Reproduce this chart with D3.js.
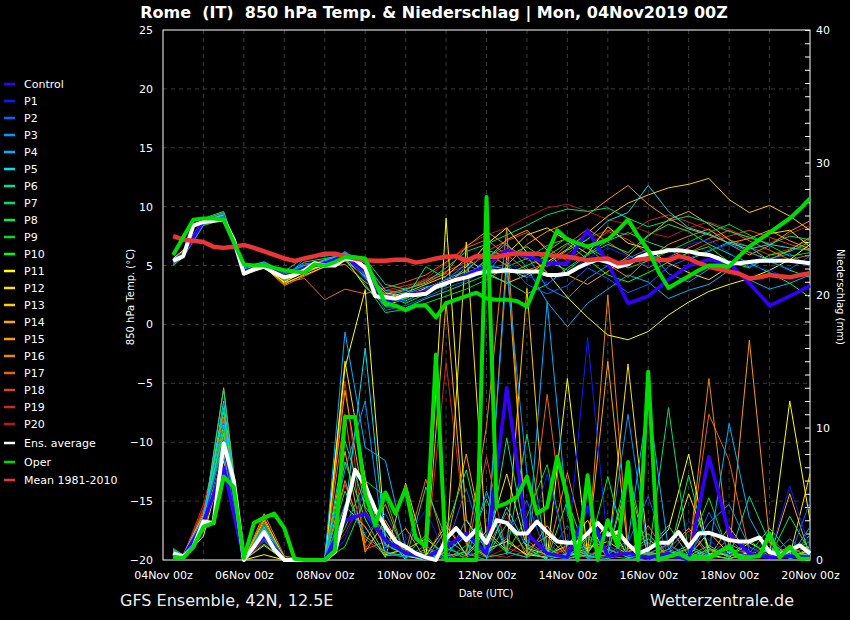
<!DOCTYPE html>
<html>
<head>
<meta charset="utf-8">
<title>Rome 850 hPa Temp. & Niederschlag</title>
<script src="https://d3js.org/d3.v7.min.js"></script>
<style>
  body { margin: 0; background: #000; }
  svg { display: block; font-family: "DejaVu Sans", sans-serif; }
</style>
</head>
<body>
<div id="chart"></div>
<script>
// forecast hours: 6-hourly for the main curves, 12-hourly for the members
var hours6 = d3.range(6, 385, 6);
var hours12 = [6].concat(d3.range(12, 385, 12));
var tickHours = d3.range(0, 385, 48);

// 850 hPa temperature (°C), 6 hourly from +6h
var tempMean = [7.5, 7.2, 7.1, 7.0, 6.6, 6.5, 6.6, 6.75,
  6.5, 6.2, 5.9, 5.6, 5.4, 5.6, 5.8, 6.0,
  6.0, 5.8, 5.6, 5.45, 5.4, 5.4, 5.5, 5.5,
  5.25, 5.4, 5.6, 5.75, 5.8, 5.4, 5.8, 5.75,
  5.75, 5.9, 6.05, 6.0, 6.0, 5.9, 5.8, 5.75,
  5.6, 5.45, 5.55, 5.6, 5.2, 5.3, 5.5, 5.6,
  5.5, 5.45, 5.8, 5.6, 5.2, 4.9, 4.7, 4.5,
  4.3, 3.9, 4.0, 4.2, 4.1, 4.0, 4.2, 4.35];
var tempAvg = [5.4, 5.8, 8.4, 8.7, 8.8, 8.9, 7.2, 4.3,
  4.7, 4.9, 4.4, 4.0, 4.2, 4.6, 5.2, 5.0,
  5.0, 5.6, 5.5, 4.8, 2.4, 2.3, 2.2, 2.5,
  2.5, 2.6, 3.2, 3.5, 3.8, 4.0, 4.3, 4.5,
  4.5, 4.6, 4.5, 4.5, 4.5, 4.2, 4.2, 4.3,
  4.8, 5.2, 5.5, 5.3, 4.9, 5.1, 5.7, 6.0,
  6.1, 6.3, 6.3, 6.2, 6.0, 5.9, 5.6, 5.2,
  5.2, 5.3, 5.4, 5.4, 5.4, 5.4, 5.3, 5.2];
var tempOper = [5.9, 7.4, 8.9, 9.0, 9.0, 8.9, 7.0, 5.1,
  5.0, 5.0, 4.8, 4.6, 4.5, 4.4, 5.1, 5.0,
  5.3, 5.7, 5.7, 5.6, 3.5, 1.8, 1.6, 1.2,
  1.6, 1.6, 0.6, 1.8, 2.1, 2.4, 2.7, 2.2,
  2.1, 2.1, 2.0, 1.5, 3.5, 6.0, 8.0, 7.2,
  6.9, 6.6, 6.9, 7.2, 8.0, 8.9, 7.5, 6.3,
  4.5, 3.1, 3.6, 4.1, 4.6, 5.0, 5.0, 4.9,
  5.8, 6.6, 7.2, 7.8, 8.4, 9.0, 9.8, 10.7];

// precipitation (mm), 6 hourly from +6h
var precAvg = [0.5, 0.25, 1.0, 2.9, 2.8, 8.8, 6.0, 0.0,
  1.0, 2.1, 0.8, 0.0, 0.0, 0.0, 0.0, 0.0,
  0.6, 3.5, 6.8, 5.6, 3.8, 2.5, 1.4, 1.0,
  0.5, 0.2, 0.0, 1.6, 2.4, 1.5, 2.3, 1.3,
  3.0, 2.8, 2.0, 2.0, 2.9, 2.1, 1.4, 1.3,
  1.3, 2.0, 2.8, 1.9, 2.1, 1.2, 0.5, 0.8,
  1.3, 1.3, 2.1, 1.0, 2.0, 2.05, 1.8, 1.5,
  1.4, 1.4, 1.7, 0.6, 0.4, 0.75, 1.1, 0.5];
var precOper = [0.25, 0.15, 1.0, 2.5, 2.8, 6.3, 5.5, 0.15,
  2.8, 3.2, 3.5, 2.4, 0.1, 0.0, 0.0, 0.0,
  0.7, 10.8, 10.8, 5.0, 2.6, 5.1, 3.5, 5.4,
  1.65, 1.0, 15.5, 0.0, 0.0, 0.0, 0.0, 27.4,
  4.0, 4.3, 4.75, 6.3, 3.5, 4.0, 7.8, 4.75,
  0.0, 6.4, 0.0, 3.0, 1.0, 7.4, 0.0, 14.2,
  0.0, 0.25, 0.5, 0.1, 0.2, 0.1, 0.6, 1.0,
  0.2, 0.2, 0.3, 2.0, 0.2, 1.0, 0.1, 0.1];

// ensemble members, temperature (°C) at hours12
var tempCtrl = [5.3,6.0,8.8,9.0,4.5,5.0,4.0,4.8,5.2,5.8,4.5,2.0,2.5,2.8,3.6,4.2,5.0,6.3,5.8,5.2,5.2,8.0,5.2,1.8,2.4,3.8,5.0,5.5,5.2,3.5,1.6,2.4,3.3];
var tempP1 = [5.2,5.9,8.6,9.1,4.6,5.1,4.2,4.9,5.3,5.9,3.8,1.8,2.1,3.0,3.9,4.8,6.0,5.4,4.1,3.5,4.4,5.6,6.5,5.8,4.9,5.7,6.8,7.2,6.1,5.0,4.6,3.9,4.4];
var tempP2 = [5.4,6.1,8.9,9.4,4.4,5.2,3.9,5.6,6.0,5.7,4.2,1.2,1.6,2.3,3.1,3.7,4.6,5.2,3.4,2.6,3.3,4.8,3.9,2.7,3.4,4.9,5.6,6.3,6.8,6.2,5.3,4.7,5.8];
var tempP3 = [5.5,6.2,8.7,9.2,4.3,4.9,3.8,5.2,5.1,6.2,4.9,2.4,2.9,2.5,3.8,5.1,4.3,6.4,5.9,3.1,2.2,3.9,5.0,5.6,6.4,4.3,3.6,4.7,5.4,4.9,5.6,6.0,4.9];
var tempP4 = [5.1,5.8,8.5,9.0,4.8,5.3,4.4,5.0,5.4,6.1,5.2,2.9,2.6,3.2,3.5,4.0,5.5,6.9,4.8,1.9,-0.2,1.8,3.0,4.2,3.6,2.2,2.9,3.4,4.6,3.8,3.0,3.5,4.2];
var tempP5 = [5.3,6.0,8.8,9.3,4.5,5.0,4.1,4.7,5.5,5.8,4.6,2.2,2.0,2.8,3.3,4.4,5.0,4.7,4.0,5.1,6.3,7.2,8.8,9.5,11.8,9.6,8.2,7.7,6.9,6.4,6.8,6.5,6.3];
var tempP6 = [5.2,5.8,8.6,9.1,4.7,5.2,4.0,5.0,5.2,5.6,4.0,1.5,1.4,2.2,2.8,3.5,4.2,3.6,2.6,3.4,4.8,6.0,7.1,7.8,7.0,6.4,5.5,6.2,7.0,6.6,5.4,4.6,4.0];
var tempP7 = [5.0,5.7,8.4,8.9,4.9,5.3,4.5,5.7,5.8,6.0,5.6,3.4,3.0,3.6,4.8,6.2,6.8,7.6,8.4,9.3,9.8,9.6,9.9,9.0,8.3,8.8,9.2,8.6,7.9,7.4,6.8,7.5,7.2];
var tempP8 = [5.4,6.2,9.0,9.6,4.6,5.0,4.2,5.3,5.6,5.9,4.8,2.0,2.2,4.9,3.9,4.5,6.3,5.8,6.6,5.4,4.6,5.9,6.8,6.1,7.6,8.5,7.9,6.8,6.0,5.2,4.4,3.5,2.3];
var tempP9 = [5.3,6.0,8.7,9.2,4.4,5.1,3.7,4.9,5.3,5.5,3.4,1.0,1.3,1.8,2.4,3.0,3.8,4.9,5.6,6.7,7.3,6.5,5.6,4.8,5.4,6.2,7.0,7.8,8.5,7.6,6.7,5.8,6.1];
var tempP10 = [5.2,5.9,8.8,9.0,4.5,5.2,4.1,4.8,5.4,5.7,4.3,2.5,1.8,2.6,3.4,4.1,4.9,4.3,5.0,5.8,6.9,5.5,4.2,3.6,4.4,5.3,6.1,6.6,5.3,4.8,5.9,6.2,7.0];
var tempP11 = [5.6,6.3,8.9,9.4,4.2,4.8,3.6,4.5,5.1,5.6,3.2,1.6,2.2,2.8,3.3,4.9,6.8,8.2,6.1,4.4,2.3,0.6,-0.9,-1.3,-0.6,0.8,1.9,2.8,3.4,3.9,4.6,5.5,6.8];
var tempP12 = [5.5,6.2,8.8,9.3,4.3,5.0,3.8,4.6,5.0,5.8,4.4,2.7,2.3,3.1,3.8,4.2,5.2,6.0,7.6,8.2,7.1,6.0,8.3,6.9,6.4,5.2,4.4,3.8,4.9,6.5,7.7,8.0,6.6];
var tempP13 = [5.4,6.0,8.6,9.0,4.4,5.1,3.5,4.2,4.9,6.0,5.0,2.3,2.7,3.4,4.1,5.6,4.4,3.5,4.2,5.3,6.4,7.8,9.2,10.3,11.0,11.6,11.9,12.4,10.6,9.5,10.1,9.2,8.0];
var tempP14 = [5.3,5.9,8.7,9.2,4.3,5.0,3.4,4.3,5.2,5.9,4.5,2.1,2.5,3.0,3.6,4.0,5.5,7.2,8.0,6.3,4.2,3.4,4.5,5.8,7.5,8.9,9.6,8.5,7.2,6.1,5.5,6.3,7.4];
var tempP15 = [5.2,5.8,8.5,9.1,4.6,5.2,3.7,4.4,5.0,5.4,4.1,1.9,2.4,2.9,3.5,4.6,6.1,5.0,6.8,7.9,8.6,9.3,10.6,11.8,10.2,9.0,8.1,7.6,6.9,7.3,8.0,7.1,6.4];
var tempP16 = [5.5,6.1,8.9,9.5,4.5,4.9,3.3,4.1,4.9,5.1,3.6,2.6,3.0,3.5,4.4,6.6,7.9,6.7,5.6,6.2,7.4,6.5,5.1,4.0,5.6,6.8,7.5,8.1,6.8,5.9,6.7,7.9,8.8];
var tempP17 = [5.3,6.0,8.8,9.3,4.4,5.1,3.6,3.9,2.1,3.0,2.6,3.1,3.6,4.2,5.3,6.5,7.2,5.9,4.6,5.2,6.8,8.1,7.0,5.9,4.8,5.7,6.5,7.3,8.0,7.1,6.3,5.5,5.9];
var tempP18 = [5.4,6.0,8.7,9.2,4.5,5.0,3.9,4.5,5.1,5.6,3.9,2.5,2.9,3.8,4.5,5.3,6.2,7.1,7.8,6.5,5.4,6.6,7.9,7.2,6.0,5.3,6.1,6.9,7.5,8.0,7.4,6.8,6.3];
var tempP19 = [5.1,5.8,8.6,9.0,4.7,5.2,4.3,5.1,5.5,6.1,5.0,2.9,3.3,3.7,4.3,5.0,5.8,6.4,5.5,4.9,6.0,7.3,8.0,7.6,8.8,9.3,8.7,8.0,7.2,6.6,5.9,6.4,7.2];
var tempP20 = [5.2,5.9,8.5,8.9,4.6,5.3,4.2,5.0,5.4,5.9,4.7,2.8,3.1,3.9,5.2,6.7,7.6,8.2,9.1,9.9,10.2,9.6,8.9,8.5,7.8,7.4,8.2,8.7,8.1,7.3,6.9,7.7,8.4];

// ensemble members, precipitation (mm) at hours12
var precCtrl = [0.4,0.2,2.8,7.0,0.0,1.8,0.0,0.0,0.0,3.0,3.5,1.5,0.5,0.2,1.0,2.0,0.5,13.0,2.0,0.5,0.2,4.0,0.3,0.5,0.2,0.5,0.0,7.8,2.0,0.5,0.2,0.3,0.2];
var precP1 = [0.6,0.3,3.0,8.5,0.0,2.2,0.2,0.0,0.0,1.5,5.5,0.8,1.5,3.8,0.3,0.0,2.1,3.2,1.2,6.5,0.4,16.8,1.1,0.3,0.0,0.6,2.9,1.5,0.4,0.9,0.3,5.6,0.8];
var precP2 = [0.5,0.2,2.6,7.8,0.1,1.5,0.0,0.0,0.0,4.2,2.0,3.5,0.6,0.0,0.9,5.4,0.3,1.8,4.5,0.2,2.6,0.5,0.0,1.3,4.8,0.2,0.1,3.6,0.7,0.3,1.8,0.2,4.4];
var precP3 = [0.3,0.2,2.9,9.2,0.0,2.6,0.1,0.0,0.0,6.8,12.0,0.5,0.2,1.1,0.0,3.1,0.8,22.0,6.5,0.4,0.1,1.9,0.6,11.0,0.5,1.2,0.3,2.8,4.2,1.0,0.2,1.6,0.3];
var precP4 = [0.7,0.4,3.3,10.5,0.0,1.9,0.0,0.0,0.0,17.2,8.5,7.5,0.9,0.3,1.2,0.0,5.2,0.6,0.2,19.5,3.4,0.1,0.4,1.5,12.0,0.8,0.2,0.6,10.3,3.2,0.4,0.2,2.5];
var precP5 = [0.4,0.3,2.7,12.0,0.0,2.4,0.0,0.0,0.0,3.5,16.0,1.2,0.4,0.0,0.6,1.8,0.2,4.0,0.9,0.0,0.5,0.3,0.8,0.2,0.0,0.4,1.1,0.3,0.6,0.2,0.9,0.1,0.5];
var precP6 = [0.6,0.3,3.1,11.5,0.0,1.6,0.1,0.0,0.0,9.0,4.0,2.0,0.0,5.5,1.6,0.5,0.0,9.2,1.2,0.3,0.1,0.6,2.2,0.4,0.8,2.6,0.3,1.1,0.2,4.8,1.3,0.2,1.9];
var precP7 = [0.8,0.4,3.0,12.9,0.0,2.0,0.2,0.0,0.0,5.2,1.8,0.6,0.3,1.9,0.0,0.7,4.6,0.5,9.5,0.3,1.5,0.2,0.4,6.8,0.2,11.5,0.4,0.3,1.2,0.5,2.4,0.6,0.3];
var precP8 = [0.5,0.2,2.8,10.2,0.0,1.2,0.0,0.0,0.0,7.4,3.1,0.3,0.5,0.0,2.3,6.8,0.3,2.7,0.6,0.1,4.5,0.3,0.1,0.6,2.0,0.2,6.4,0.3,0.1,0.4,0.2,3.3,0.6];
var precP9 = [0.9,0.3,2.5,9.8,0.0,2.8,0.1,0.0,0.0,2.4,6.0,4.8,0.2,0.6,0.0,1.1,0.2,0.5,3.3,7.2,0.2,1.7,0.3,0.1,0.5,0.3,0.8,4.7,0.4,0.1,0.6,0.2,0.9];
var precP10 = [0.6,0.3,2.7,9.0,0.1,2.3,0.0,0.0,0.0,1.0,4.6,1.1,0.4,0.2,0.9,0.3,1.9,0.6,0.2,0.9,0.1,0.4,6.3,0.2,0.5,0.3,0.2,0.8,0.3,1.5,0.2,0.6,1.4];
var precP11 = [0.4,0.2,1.8,7.5,0.0,0.4,0.0,0.0,0.0,14.5,20.4,1.6,0.3,0.0,25.8,3.0,0.8,1.4,0.4,0.2,13.7,0.5,2.9,0.3,0.7,2.3,8.0,0.4,0.1,0.6,0.3,12.0,3.0];
var precP12 = [0.5,0.2,2.2,8.0,0.0,1.1,0.0,0.0,0.0,15.0,6.2,0.4,0.8,1.6,0.4,24.0,1.3,6.5,0.9,0.4,1.1,3.0,0.2,14.8,0.6,0.3,5.0,0.9,0.2,1.3,0.5,0.3,6.5];
var precP13 = [0.7,0.4,3.4,9.6,0.0,3.0,0.2,0.0,0.0,4.1,2.5,0.2,5.8,0.3,2.6,0.4,2.2,0.7,20.5,0.5,0.3,0.9,1.4,0.4,0.2,0.6,0.3,2.1,0.5,0.3,0.8,0.4,0.6];
var precP14 = [0.5,0.3,2.9,13.0,0.0,2.5,0.0,0.0,0.0,8.2,0.6,3.0,0.4,0.0,19.5,1.2,0.3,23.0,0.8,1.8,0.3,0.7,15.0,0.6,1.6,0.3,0.9,0.2,2.5,0.4,0.2,5.0,0.3];
var precP15 = [0.6,0.3,3.2,11.2,0.0,3.2,0.1,0.0,0.0,12.8,3.8,0.9,2.4,0.0,1.1,8.0,0.5,1.6,0.3,2.6,0.4,1.2,0.5,6.0,0.3,0.8,2.4,0.5,0.4,16.6,1.4,0.3,0.7];
var precP16 = [0.4,0.2,2.4,8.8,0.0,3.5,0.3,0.0,0.0,6.0,1.3,4.2,0.2,0.8,0.3,0.6,10.1,25.0,0.5,0.2,6.6,0.3,20.0,0.9,0.4,0.6,0.3,13.7,0.8,0.5,0.3,1.0,0.2];
var precP17 = [0.7,0.3,3.6,10.8,0.0,2.1,0.0,0.0,0.0,11.0,0.8,1.4,0.6,6.1,0.5,0.2,0.9,3.6,0.2,12.5,0.5,0.2,1.1,0.3,2.6,0.2,0.4,11.0,7.5,0.6,0.2,0.4,1.1];
var precP18 = [0.5,0.2,3.8,9.4,0.0,2.7,0.2,0.0,0.0,5.7,1.6,0.4,0.9,0.3,2.9,0.3,7.8,0.4,1.5,0.3,0.8,2.0,0.2,0.6,1.3,0.4,2.2,0.3,1.6,0.2,1.4,0.3,0.5];
var precP19 = [0.6,0.3,4.2,10.0,0.0,1.4,0.1,0.0,0.0,13.5,0.9,2.7,0.3,0.1,14.9,1.9,0.4,0.2,0.7,0.3,1.0,0.4,0.9,0.2,0.5,1.1,0.3,0.7,0.4,0.2,0.9,0.5,0.3];
var precP20 = [0.8,0.4,3.9,8.3,0.0,2.9,0.0,0.0,0.0,2.0,5.1,0.6,0.2,0.4,0.3,0.6,0.2,0.9,0.4,1.2,0.3,0.5,0.2,0.9,0.3,0.6,0.4,0.2,0.6,0.3,0.4,0.2,0.5];

var memberNames = ["Control","P1","P2","P3","P4","P5","P6","P7","P8","P9","P10",
  "P11","P12","P13","P14","P15","P16","P17","P18","P19","P20"];
var memberTemps = [tempCtrl,tempP1,tempP2,tempP3,tempP4,tempP5,tempP6,tempP7,tempP8,tempP9,tempP10,
  tempP11,tempP12,tempP13,tempP14,tempP15,tempP16,tempP17,tempP18,tempP19,tempP20];
var memberPrecs = [precCtrl,precP1,precP2,precP3,precP4,precP5,precP6,precP7,precP8,precP9,precP10,
  precP11,precP12,precP13,precP14,precP15,precP16,precP17,precP18,precP19,precP20];
var memberColors = ["#3300ff","#0022ff","#0066ff","#0099ff","#00b0ff","#00e0f0","#00dd99","#00dd77",
  "#00ee55","#00dd22","#00ff00","#ffff00","#ffe000","#ffcc00","#ffaa00","#ff9900","#ee8800",
  "#ee6600","#dd4422","#cc2a22","#bb1a1a"];

var W = 850, H = 620;
var plotL = 163, plotR = 810, plotT = 30, plotB = 560;
var t0 = Date.UTC(2019, 10, 4, 0);

var svg = d3.select('#chart').append('svg')
  .attr('width', W)
  .attr('height', H)
  .style('background', '#000');

var x = d3.scaleUtc()
  .domain([new Date(t0), new Date(t0 + 384 * 3600e3)])
  .range([plotL, plotR]);
var yT = d3.scaleLinear().domain([-20, 25]).range([plotB, plotT]);
var yP = d3.scaleLinear().domain([0, 40]).range([plotB, plotT]);

function hx(h) { return x(new Date(t0 + h * 3600e3)); }

// grid
var grid = svg.append('g').attr('stroke', '#3c3c3c').attr('stroke-dasharray', '4,4');
grid.selectAll('.gy').data(d3.range(-15, 25, 5)).enter().append('line')
  .attr('x1', plotL).attr('x2', plotR)
  .attr('y1', function(d) { return yT(d); }).attr('y2', function(d) { return yT(d); });
grid.selectAll('.gx').data(d3.range(24, 384, 24)).enter().append('line')
  .attr('y1', plotT).attr('y2', plotB)
  .attr('x1', function(d) { return hx(d); }).attr('x2', function(d) { return hx(d); });

// axes
var axL = svg.append('g').attr('transform', 'translate(' + plotL + ',0)')
  .call(d3.axisLeft(yT).tickValues(d3.range(-20, 26, 5)).tickSize(0).tickPadding(10));
var axR = svg.append('g').attr('transform', 'translate(' + plotR + ',0)')
  .call(d3.axisRight(yP).tickValues(d3.range(0, 41, 1)).tickSize(-5).tickPadding(6)
    .tickFormat(function(d) { return d % 10 === 0 ? d : ''; }));
var axB = svg.append('g').attr('transform', 'translate(0,' + plotB + ')')
  .call(d3.axisBottom(x)
    .tickValues(tickHours.map(function(h) { return new Date(t0 + h * 3600e3); }))
    .tickSize(0).tickPadding(11)
    .tickFormat(d3.utcFormat('%d%b %Hz')));
[axL, axR, axB].forEach(function(a) {
  a.select('.domain').remove();
  a.selectAll('text').attr('fill', '#fff').style('font-size', '11px')
    .style('font-family', '"DejaVu Sans", sans-serif');
  a.selectAll('line').attr('stroke', '#fff');
});

// frame
svg.append('rect')
  .attr('x', plotL).attr('y', plotT)
  .attr('width', plotR - plotL).attr('height', plotB - plotT)
  .attr('fill', 'none').attr('stroke', '#fff').attr('stroke-width', 1);

var plot = svg.append('g');

function drawLine(hours, values, yScale, color, w) {
  var line = d3.line()
    .x(function(d, i) { return hx(hours[i]); })
    .y(function(d) { return yScale(d); });
  plot.append('path')
    .datum(values)
    .attr('d', line)
    .attr('fill', 'none')
    .attr('stroke', color)
    .attr('stroke-width', w)
    .attr('stroke-linejoin', 'round');
}

// members (thin), control thick
for (var m = memberNames.length - 1; m >= 1; m--) {
  drawLine(hours12, memberPrecs[m], yP, memberColors[m], 1);
  drawLine(hours12, memberTemps[m], yT, memberColors[m], 1);
}
drawLine(hours12, precCtrl, yP, memberColors[0], 3.5);
drawLine(hours12, tempCtrl, yT, memberColors[0], 3.5);

// ensemble mean, climate, oper
drawLine(hours6, precAvg, yP, '#fff', 4);
drawLine(hours6, tempAvg, yT, '#fff', 4);
drawLine(hours6, tempMean, yT, '#ee3535', 4.5);
drawLine(hours6, precOper, yP, '#00dd00', 4);
drawLine(hours6, tempOper, yT, '#00dd00', 4);

// legend
var legendItems = memberNames.map(function(n, i) {
  return { name: n, color: memberColors[i], y: 84 + i * 17 };
});
legendItems.push({ name: 'Ens. average', color: '#fff', y: 443 });
legendItems.push({ name: 'Oper', color: '#00dd00', y: 462 });
legendItems.push({ name: 'Mean 1981-2010', color: '#ee3535', y: 480 });

var lg = svg.append('g').selectAll('g').data(legendItems).enter().append('g')
  .attr('transform', function(d) { return 'translate(0,' + d.y + ')'; });
lg.append('line').attr('x1', 4).attr('x2', 15)
  .attr('stroke', function(d) { return d.color; }).attr('stroke-width', 2.5);
lg.append('text').attr('x', 24).attr('dy', '0.35em')
  .attr('fill', '#fff').style('font-size', '11px')
  .text(function(d) { return d.name; });

// titles
svg.append('text')
  .attr('x', 434).attr('y', 18)
  .attr('text-anchor', 'middle')
  .attr('fill', '#fff')
  .style('font-size', '16px').style('font-weight', 'bold')
  .style('white-space', 'pre')
  .text('Rome  (IT)  850 hPa Temp. & Niederschlag | Mon, 04Nov2019 00Z');

svg.append('text')
  .attr('transform', 'translate(134,297) rotate(-90)')
  .attr('text-anchor', 'middle').attr('fill', '#fff').style('font-size', '10px')
  .text('850 hPa Temp. (°C)');
svg.append('text')
  .attr('transform', 'translate(837,297) rotate(90)')
  .attr('text-anchor', 'middle').attr('fill', '#fff').style('font-size', '10px')
  .text('Niederschlag (mm)');
svg.append('text')
  .attr('x', 486).attr('y', 597)
  .attr('text-anchor', 'middle').attr('fill', '#fff').style('font-size', '10px')
  .text('Date (UTC)');

svg.append('text')
  .attr('x', 120).attr('y', 606)
  .attr('fill', '#eee').style('font-size', '16px')
  .text('GFS Ensemble, 42N, 12.5E');
svg.append('text')
  .attr('x', 650).attr('y', 606)
  .attr('fill', '#eee').style('font-size', '16px')
  .text('Wetterzentrale.de');
</script>
</body>
</html>
